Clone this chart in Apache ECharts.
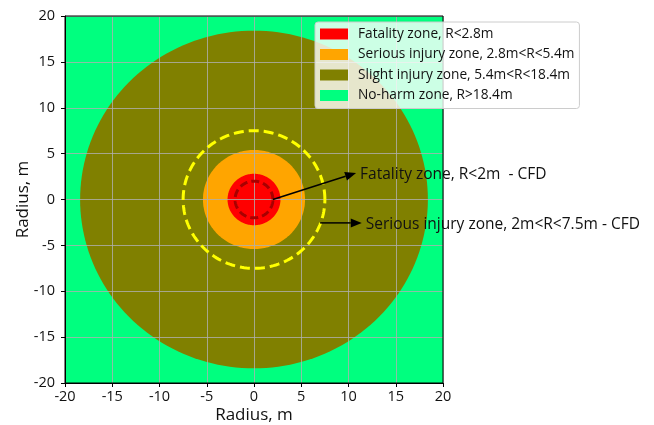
<!DOCTYPE html>
<html><head><meta charset="utf-8">
<script src="https://cdn.jsdelivr.net/npm/echarts@6/dist/echarts.min.js"></script>
<style>html,body{margin:0;padding:0;background:#fff}#c{width:654px;height:425px}</style>
</head><body><div id="c"></div>
<script>
// ---- data ----
const axisMin = -20, axisMax = 20, tickStep = 5;
const zoneNames = ['Fatality zone, R<2.8m', 'Serious injury zone, 2.8m<R<5.4m', 'Slight injury zone, 5.4m<R<18.4m', 'No-harm zone, R>18.4m'];
const zoneRadii = [2.8, 5.4, 18.4];           // outer radius of each zone (m)
const zoneColors = ['#ff0000', '#ffa500', '#808000', '#00ff7f'];
const cfdRadii = [2.0, 7.5];                  // CFD boundary circles (m)
const cfdColors = ['#a80000', '#ffff00'];
const arrowStarts = [[2.0, 0.0], [7.0, -2.55]];
const arrowEnds = [[10.8, 2.9], [11.4, -2.55]];
const annotations = ['Fatality zone, R<2m  - CFD', 'Serious injury zone, 2m<R<7.5m - CFD'];

const FONT = 'Open Sans';

function circlePoints(api, r) {
  const pts = [];
  for (let a = 0; a <= 360; a += 2) {
    const t = a * Math.PI / 180;
    pts.push(api.coord([r * Math.cos(t), r * Math.sin(t)]));
  }
  return pts;
}

function zoneSeries(idx) {
  return {
    name: zoneNames[idx], type: 'custom', z: 2,
    itemStyle: { color: zoneColors[idx] },
    data: [[0, 0, zoneRadii[idx]]],
    renderItem: function (params, api) {
      return { type: 'polygon', shape: { points: circlePoints(api, api.value(2)) },
               style: { fill: zoneColors[idx] } };
    }
  };
}

const series = [];
// no-harm zone: the whole domain
series.push({
  name: zoneNames[3], type: 'custom', z: 1,
  itemStyle: { color: zoneColors[3] },
  data: [[axisMin, axisMin, axisMax, axisMax]],
  renderItem: function (params, api) {
    const p0 = api.coord([api.value(0), api.value(3)]);
    const p1 = api.coord([api.value(2), api.value(1)]);
    return { type: 'rect', shape: { x: p0[0], y: p0[1], width: p1[0] - p0[0], height: p1[1] - p0[1] },
             style: { fill: zoneColors[3] } };
  }
});
series.push(zoneSeries(2), zoneSeries(1), zoneSeries(0));
// CFD dashed circles
series.push({
  type: 'custom', z: 15, silent: true,
  data: cfdRadii.map((r, i) => [0, 0, r, i]),
  renderItem: function (params, api) {
    const i = api.value(3);
    return { type: 'polyline', shape: { points: circlePoints(api, api.value(2)) },
             style: { stroke: cfdColors[i], fill: null, lineWidth: 3, lineDash: i === 0 ? [8, 4] : [10, 5] } };
  }
});
// arrows + annotations
series.push({
  type: 'custom', z: 20, silent: true, clip: false,
  data: arrowStarts.map((s, i) => [s[0], s[1], arrowEnds[i][0], arrowEnds[i][1], i]),
  renderItem: function (params, api) {
    const p1 = api.coord([api.value(0), api.value(1)]);
    const p2 = api.coord([api.value(2), api.value(3)]);
    const dx = p2[0] - p1[0], dy = p2[1] - p1[1];
    const L = Math.sqrt(dx * dx + dy * dy);
    const ux = dx / L, uy = dy / L, nx = -uy, ny = ux;
    const hl = 11, hw = 4.5;
    const bx = p2[0] - ux * hl, by = p2[1] - uy * hl;
    return { type: 'group', children: [
      { type: 'line', shape: { x1: p1[0], y1: p1[1], x2: bx, y2: by }, style: { stroke: '#000', lineWidth: 1.5 } },
      { type: 'polygon', shape: { points: [[p2[0], p2[1]], [bx + nx * hw, by + ny * hw], [bx - nx * hw, by - ny * hw]] },
        style: { fill: '#000' } },
      { type: 'text', x: p2[0] + 4, y: p2[1] + 1.5,
        style: { text: annotations[api.value(4)], fill: '#111', font: '15.5px "' + FONT + '"', verticalAlign: 'middle', align: 'left' } }
    ] };
  }
});

const axisCommon = {
  type: 'value', min: axisMin, max: axisMax, interval: tickStep, z: 10,
  name: 'Radius, m', nameLocation: 'middle', nameMoveOverlap: false,
  nameTextStyle: { fontFamily: FONT, fontSize: 17, color: '#111' },
  axisLine: { show: true, onZero: false, lineStyle: { color: '#000', width: 1 } },
  axisTick: { show: true, inside: false, length: 4, lineStyle: { color: '#000' } },
  axisLabel: { fontFamily: FONT, fontSize: 14.5, color: '#111' },
  splitLine: { show: true, lineStyle: { color: '#b0b0b0', width: 0.8 } }
};

const option = {
  animation: false,
  grid: { left: 65, top: 16, width: 378, height: 367, show: true, z: 12,
          outerBoundsMode: 'none', containLabel: false,
          backgroundColor: 'transparent', borderColor: '#000', borderWidth: 1 },
  xAxis: Object.assign({}, axisCommon, { nameGap: 24, axisLabel: Object.assign({}, axisCommon.axisLabel, { margin: 6 }) }),
  yAxis: Object.assign({}, axisCommon, { nameGap: 33, axisLabel: Object.assign({}, axisCommon.axisLabel, { margin: 10 }) }),
  legend: {
    data: zoneNames, orient: 'vertical', left: 315, top: 22, z: 30,
    icon: 'rect', itemWidth: 28, itemHeight: 11, itemGap: 6.5,
    padding: [5, 5, 6, 5], backgroundColor: 'rgba(255,255,255,0.8)',
    borderColor: '#cccccc', borderWidth: 1, borderRadius: 3,
    textStyle: { fontFamily: FONT, fontSize: 13.7, color: '#111', padding: [0, 0, 0, 5] },
    selectedMode: false
  },
  series: series
};
echarts.init(document.getElementById('c'), null, { renderer: 'canvas' }).setOption(option);
</script></body></html>
